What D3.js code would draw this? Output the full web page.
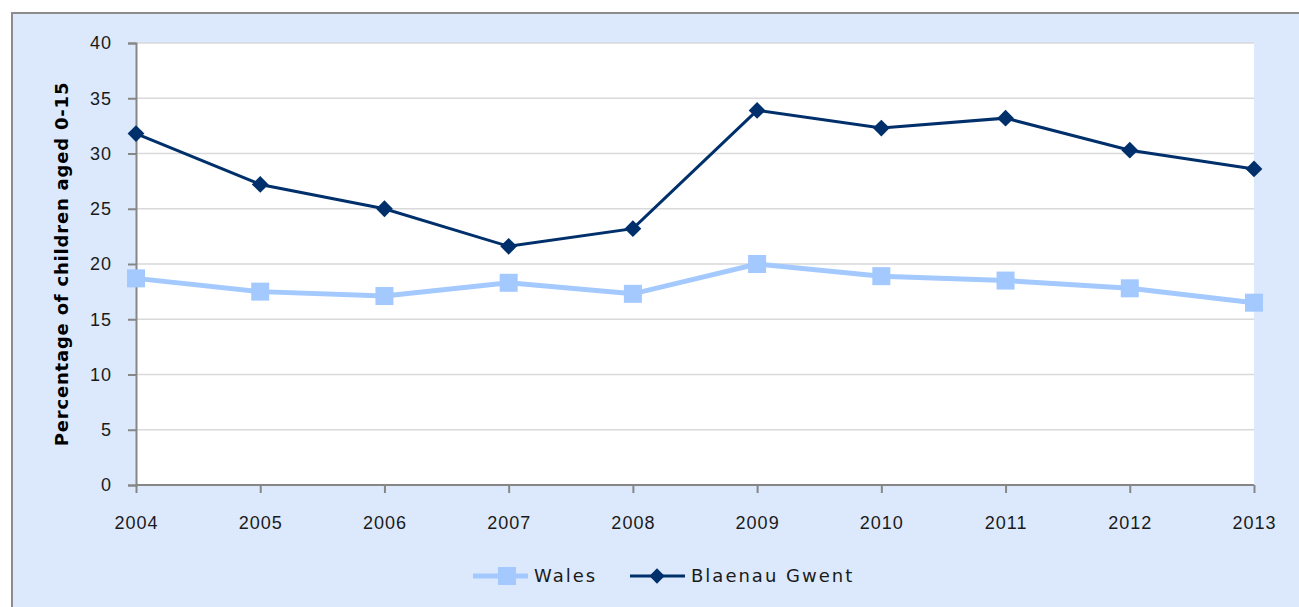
<!DOCTYPE html>
<html>
<head>
<meta charset="utf-8">
<script src="https://cdn.jsdelivr.net/npm/d3@7"></script>
<style>
  body { margin: 0; background: #fff; }
  svg { display: block; font-family: "DejaVu Sans", Verdana, sans-serif; }
</style>
</head>
<body>
<div id="chart"></div>
<script>
var years = ["2004", "2005", "2006", "2007", "2008", "2009", "2010", "2011", "2012", "2013"];
var wales = [18.7, 17.5, 17.1, 18.3, 17.3, 20.0, 18.9, 18.5, 17.8, 16.5];
var blaenau = [31.8, 27.2, 25.0, 21.6, 23.2, 33.9, 32.3, 33.2, 30.3, 28.6];
var yTicks = [0, 5, 10, 15, 20, 25, 30, 35, 40];

var width = 1299, height = 607;
var margin = { left: 136, right: 45, top: 43, bottom: 122 };

var svg = d3.select("#chart").append("svg")
    .attr("width", width)
    .attr("height", height);

// chart area background + frame (cut off at right and bottom)
svg.append("rect")
    .attr("x", 12).attr("y", 13)
    .attr("width", width).attr("height", height)
    .attr("fill", "#dce9fc")
    .attr("stroke", "#8c8c8c")
    .attr("stroke-width", 2);

var x = d3.scalePoint()
    .domain(years)
    .range([margin.left, width - margin.right]);

var y = d3.scaleLinear()
    .domain([0, 40])
    .range([height - margin.bottom, margin.top]);

// plot area
svg.append("rect")
    .attr("x", margin.left).attr("y", margin.top)
    .attr("width", width - margin.right - margin.left)
    .attr("height", height - margin.bottom - margin.top)
    .attr("fill", "#fff");

// gridlines
svg.append("g").selectAll("line")
    .data(yTicks.slice(1))
    .enter().append("line")
    .attr("x1", margin.left).attr("x2", width - margin.right)
    .attr("y1", d => y(d)).attr("y2", d => y(d))
    .attr("stroke", "#d9d9d9")
    .attr("stroke-width", 1.5);

var yAxis = svg.append("g")
    .attr("transform", "translate(" + margin.left + ",0)")
    .call(d3.axisLeft(y).tickValues(yTicks).tickSize(8).tickPadding(16));

var xAxis = svg.append("g")
    .attr("transform", "translate(0," + (height - margin.bottom) + ")")
    .call(d3.axisBottom(x).tickSize(8).tickPadding(23).tickSizeOuter(0));

[yAxis, xAxis].forEach(function (a) {
    a.select(".domain").attr("stroke", "#868686").attr("stroke-width", 2);
    a.selectAll(".tick line").attr("stroke", "#868686").attr("stroke-width", 2);
    a.selectAll("text").attr("fill", "#1a1a1a")
        .style("font-size", "18px")
        .style("letter-spacing", "1px");
});
xAxis.select(".domain").attr("d", "M" + margin.left + ",0H" + (width - margin.right));

svg.append("text")
    .attr("transform", "translate(68," + ((margin.top + height - margin.bottom) / 2) + ") rotate(-90)")
    .attr("text-anchor", "middle")
    .style("font-size", "18px")
    .style("font-weight", "bold")
    .style("letter-spacing", "0.8px")
    .attr("fill", "#000")
    .text("Percentage of children aged 0-15");

var line = d3.line()
    .x((d, i) => x(years[i]))
    .y(d => y(d));

var walesColor = "#a3c9ff", blaenauColor = "#00306b";

svg.append("path")
    .datum(wales)
    .attr("d", line)
    .attr("fill", "none")
    .attr("stroke", walesColor)
    .attr("stroke-width", 5);

svg.append("g").selectAll("rect")
    .data(wales)
    .enter().append("rect")
    .attr("x", (d, i) => x(years[i]) - 9)
    .attr("y", d => y(d) - 9)
    .attr("width", 18).attr("height", 18)
    .attr("fill", walesColor);

svg.append("path")
    .datum(blaenau)
    .attr("d", line)
    .attr("fill", "none")
    .attr("stroke", blaenauColor)
    .attr("stroke-width", 3);

var diamond = d3.symbol().type(d3.symbolDiamond2).size(180);
svg.append("g").selectAll("path")
    .data(blaenau)
    .enter().append("path")
    .attr("d", diamond)
    .attr("transform", (d, i) => "translate(" + x(years[i]) + "," + y(d) + ")")
    .attr("fill", blaenauColor);

// legend
var legend = svg.append("g").attr("transform", "translate(0,576)");
var items = [
    { label: "Wales", color: walesColor, x: 473, w: 5, marker: "square" },
    { label: "Blaenau Gwent", color: blaenauColor, x: 630, w: 3, marker: "diamond" }
];
items.forEach(function (it) {
    legend.append("line")
        .attr("x1", it.x).attr("x2", it.x + 55)
        .attr("y1", 0).attr("y2", 0)
        .attr("stroke", it.color).attr("stroke-width", it.w);
    if (it.marker == "square") {
        legend.append("rect")
            .attr("x", it.x + 34 - 9).attr("y", -9)
            .attr("width", 18).attr("height", 18)
            .attr("fill", it.color);
    } else {
        legend.append("path")
            .attr("d", d3.symbol().type(d3.symbolDiamond2).size(150))
            .attr("transform", "translate(" + (it.x + 27) + ",0)")
            .attr("fill", it.color);
    }
    legend.append("text")
        .attr("x", it.x + 61).attr("y", 0)
        .attr("dy", "0.36em")
        .style("font-size", "18px")
        .style("letter-spacing", "2px")
        .attr("fill", "#1a1a1a")
        .text(it.label);
});
</script>
</body>
</html>
